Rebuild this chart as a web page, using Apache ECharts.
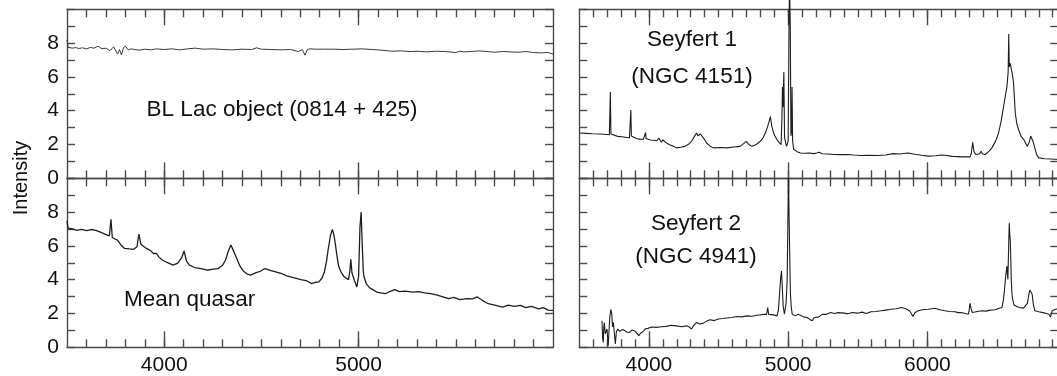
<!DOCTYPE html>
<html>
<head>
<meta charset="utf-8">
<script src="https://cdn.jsdelivr.net/npm/echarts@6/dist/echarts.min.js"></script>
<style>
html,body{margin:0;padding:0;background:#fff;overflow:hidden;}
#c{width:1060px;height:376px;}
</style>
</head>
<body>
<div id="c"></div>
<script>
// ---- data: [wavelength (Å), intensity] ----
var blLac = [[3500,8.2],[3505,7.75],[3515,7.8],[3530,7.7],[3545,7.74],[3560,7.68],[3580,7.72],[3600,7.66],[3620,7.74],[3640,7.7],[3660,7.82],[3680,7.66],[3700,7.7],[3720,7.55],[3740,7.78],[3760,7.35],[3770,7.62],[3780,7.3],[3790,7.7],[3800,7.82],[3815,7.6],[3830,7.66],[3850,7.62],[3870,7.58],[3900,7.64],[3930,7.6],[3960,7.66],[4000,7.62],[4040,7.66],[4080,7.6],[4120,7.66],[4160,7.7],[4200,7.64],[4250,7.66],[4300,7.62],[4350,7.6],[4400,7.64],[4450,7.62],[4475,7.72],[4500,7.64],[4550,7.62],[4600,7.6],[4650,7.62],[4690,7.5],[4710,7.62],[4725,7.28],[4735,7.6],[4750,7.66],[4780,7.64],[4820,7.64],[4870,7.64],[4920,7.62],[4970,7.64],[5020,7.66],[5070,7.62],[5120,7.58],[5170,7.52],[5220,7.54],[5260,7.5],[5300,7.52],[5350,7.48],[5400,7.52],[5450,7.5],[5500,7.44],[5520,7.52],[5540,7.48],[5580,7.5],[5620,7.54],[5660,7.5],[5700,7.46],[5740,7.5],[5780,7.48],[5820,7.46],[5860,7.5],[5900,7.44],[5940,7.42],[5970,7.45],[6000,7.35]];

var meanQuasar = [[3500,7.5],[3505,7.05],[3530,7.0],[3550,6.92],[3574,6.98],[3600,6.9],[3625,6.97],[3648,6.92],[3675,6.8],[3704,6.65],[3718,6.6],[3726,7.58],[3733,6.5],[3745,6.42],[3759,6.35],[3778,6.05],[3796,5.85],[3820,5.82],[3843,5.8],[3860,5.95],[3870,6.7],[3880,6.1],[3889,6.02],[3908,5.85],[3926,5.75],[3945,5.55],[3960,5.55],[3972,5.35],[3991,5.15],[4020,5.0],[4046,4.86],[4070,4.98],[4090,5.3],[4102,5.7],[4115,5.1],[4130,4.86],[4157,4.72],[4190,4.65],[4222,4.56],[4250,4.62],[4278,4.66],[4300,4.85],[4315,5.15],[4330,5.7],[4343,6.05],[4355,5.75],[4370,5.35],[4390,4.8],[4407,4.52],[4425,4.35],[4444,4.27],[4470,4.4],[4495,4.5],[4518,4.66],[4545,4.55],[4574,4.46],[4600,4.38],[4630,4.23],[4665,4.12],[4704,4.0],[4730,3.95],[4759,3.77],[4780,3.85],[4796,3.87],[4812,4.1],[4824,4.46],[4835,5.1],[4843,5.75],[4855,6.6],[4865,6.98],[4872,6.7],[4880,6.15],[4890,5.3],[4898,4.76],[4912,4.4],[4926,4.17],[4948,4.0],[4955,4.5],[4960,5.2],[4966,4.4],[4978,3.97],[4991,3.57],[5000,4.2],[5007,7.1],[5013,8.0],[5019,6.0],[5024,4.5],[5028,4.17],[5040,3.75],[5056,3.53],[5075,3.4],[5093,3.27],[5115,3.22],[5139,3.17],[5160,3.3],[5185,3.41],[5210,3.3],[5240,3.32],[5278,3.27],[5310,3.3],[5340,3.22],[5370,3.17],[5400,3.1],[5430,3.0],[5463,2.88],[5490,2.95],[5520,2.82],[5556,2.88],[5585,2.86],[5611,2.98],[5640,2.75],[5667,2.58],[5700,2.5],[5741,2.38],[5770,2.5],[5800,2.42],[5833,2.48],[5860,2.35],[5890,2.42],[5926,2.28],[5950,2.35],[5975,2.2],[6000,2.18]];

var seyfert1 = [[3504,2.68],[3550,2.66],[3595,2.64],[3650,2.62],[3716,2.58],[3720,2.62],[3723,5.1],[3727,2.62],[3735,2.58],[3776,2.48],[3820,2.44],[3860,2.38],[3866,2.45],[3870,4.04],[3874,2.5],[3884,2.44],[3910,2.36],[3933,2.32],[3960,2.3],[3972,2.4],[3976,2.71],[3980,2.35],[3986,2.29],[4010,2.27],[4029,2.25],[4055,2.22],[4072,2.38],[4089,2.13],[4100,2.28],[4106,2.25],[4120,2.12],[4149,1.99],[4175,1.9],[4198,1.8],[4230,1.84],[4258,1.89],[4285,2.02],[4306,2.19],[4325,2.45],[4342,2.68],[4352,2.52],[4361,2.48],[4370,2.62],[4378,2.64],[4395,2.35],[4414,2.09],[4440,1.9],[4463,1.8],[4510,1.82],[4559,1.8],[4610,1.85],[4655,1.89],[4680,2.05],[4699,2.19],[4715,2.02],[4740,1.89],[4770,2.0],[4800,2.19],[4820,2.4],[4836,2.68],[4850,3.0],[4860,3.26],[4872,3.65],[4882,3.1],[4892,2.77],[4905,2.5],[4920,2.29],[4935,2.12],[4949,1.99],[4955,3.5],[4959,5.4],[4963,4.2],[4969,6.29],[4974,2.4],[4988,1.89],[5000,2.2],[5006,9.0],[5010,11.5],[5015,9.0],[5020,2.5],[5025,2.8],[5028,5.4],[5032,2.2],[5040,1.7],[5053,1.6],[5070,1.55],[5089,1.5],[5120,1.48],[5150,1.5],[5186,1.46],[5205,1.5],[5222,1.54],[5245,1.45],[5280,1.44],[5330,1.41],[5380,1.4],[5427,1.41],[5470,1.38],[5523,1.35],[5580,1.36],[5643,1.35],[5700,1.38],[5752,1.46],[5800,1.44],[5860,1.5],[5910,1.42],[5960,1.36],[6005,1.31],[6060,1.33],[6100,1.38],[6113,1.46],[6125,1.36],[6180,1.3],[6246,1.27],[6306,1.27],[6316,1.5],[6325,2.13],[6334,1.6],[6347,1.41],[6375,1.45],[6386,1.6],[6395,1.45],[6414,1.41],[6440,1.58],[6463,1.8],[6490,2.2],[6511,2.68],[6530,3.4],[6547,4.24],[6560,4.9],[6571,5.41],[6580,6.3],[6584,8.54],[6588,6.6],[6595,6.8],[6600,6.58],[6607,6.68],[6613,6.0],[6619,5.6],[6631,3.85],[6643,3.2],[6655,2.87],[6672,2.5],[6692,2.29],[6716,1.89],[6730,2.1],[6742,2.5],[6752,2.52],[6762,2.1],[6771,1.8],[6785,1.4],[6800,1.21],[6840,1.16],[6890,1.14],[6945,1.11]];

var seyfert2 = [[3663,1.57],[3667,0.6],[3672,0.29],[3676,1.2],[3680,1.47],[3686,0.8],[3692,0.69],[3699,1.08],[3704,0.5],[3708,0.1],[3714,1.1],[3720,1.86],[3727,2.25],[3733,2.0],[3739,1.2],[3745,1.47],[3752,0.8],[3759,0.2],[3766,0.9],[3776,1.08],[3788,0.95],[3800,0.88],[3812,1.05],[3824,0.98],[3842,0.9],[3860,0.88],[3878,1.02],[3896,0.98],[3912,0.85],[3928,0.69],[3942,0.85],[3957,0.92],[3975,1.1],[3993,1.12],[4020,1.2],[4053,1.18],[4090,1.22],[4125,1.24],[4160,1.3],[4198,1.27],[4235,1.22],[4270,1.27],[4290,1.2],[4306,1.08],[4322,1.3],[4342,1.47],[4365,1.38],[4390,1.43],[4415,1.55],[4439,1.63],[4470,1.58],[4499,1.67],[4530,1.7],[4559,1.73],[4595,1.76],[4631,1.82],[4668,1.8],[4704,1.86],[4740,1.84],[4776,1.9],[4800,1.92],[4824,1.96],[4845,1.95],[4853,2.35],[4860,1.95],[4872,1.9],[4895,1.92],[4920,1.86],[4930,2.2],[4937,3.04],[4945,4.0],[4952,4.51],[4958,3.5],[4964,2.45],[4973,1.96],[4985,2.6],[4993,4.02],[4998,7.5],[5002,10.4],[5008,7.0],[5016,3.24],[5022,2.4],[5029,1.96],[5053,1.86],[5070,1.95],[5089,1.9],[5110,1.8],[5137,1.76],[5155,1.65],[5173,1.57],[5185,1.75],[5198,1.86],[5220,1.8],[5246,1.96],[5275,1.95],[5306,2.06],[5330,2.0],[5360,2.05],[5402,2.02],[5430,1.98],[5460,2.06],[5499,2.02],[5530,2.08],[5560,2.0],[5595,2.1],[5630,2.12],[5667,2.16],[5700,2.2],[5740,2.25],[5775,2.28],[5812,2.35],[5840,2.3],[5872,2.16],[5884,2.0],[5896,1.82],[5910,2.05],[5933,2.16],[5965,2.22],[6005,2.25],[6030,2.28],[6053,2.31],[6090,2.22],[6125,2.16],[6160,2.12],[6198,2.1],[6220,2.05],[6246,2.06],[6270,2.0],[6294,1.96],[6300,2.2],[6306,2.61],[6313,2.3],[6323,2.06],[6350,2.1],[6390,2.16],[6420,2.14],[6450,2.2],[6486,2.22],[6510,2.3],[6535,2.35],[6546,2.8],[6554,3.43],[6562,4.2],[6571,4.8],[6578,4.02],[6584,6.2],[6588,7.35],[6592,6.6],[6595,6.37],[6599,5.2],[6602,4.02],[6607,3.2],[6612,2.84],[6622,2.5],[6631,2.41],[6650,2.38],[6667,2.35],[6690,2.32],[6704,2.35],[6718,2.6],[6728,3.1],[6735,3.39],[6745,3.3],[6752,3.14],[6760,2.6],[6771,2.16],[6785,2.05],[6800,2.1],[6830,2.05],[6855,2.0],[6872,1.96],[6884,1.8],[6896,2.16],[6920,2.25],[6945,2.29]];

var leftMajorTicks = [4000, 5000];
var rightMajorTicks = [4000, 5000, 6000];
var yTickLabels = [0, 2, 4, 6, 8];
var panelLabels = ['BL Lac object (0814 + 425)', 'Mean quasar', 'Seyfert 1', '(NGC 4151)', 'Seyfert 2', '(NGC 4941)'];
var yTitle = 'Intensity';

// ---- layout ----
var FONT = 'Liberation Sans, Arial, Helvetica, sans-serif';
var TXT = '#111';
var FRAME = '#4a4a4a';
var panelH = 169;
var grids = [
  {left: 67, top: 9.3, width: 486, height: panelH},      // top-left
  {left: 67, top: 178.3, width: 486, height: panelH},    // bottom-left
  {left: 579.3, top: 9.3, width: 479, height: panelH},   // top-right
  {left: 579.3, top: 178.3, width: 479, height: panelH}  // bottom-right
];
var xRanges = [[3500, 6000], [3500, 6000], [3500, 6940], [3500, 6940]];
var majors = [leftMajorTicks, leftMajorTicks, rightMajorTicks, rightMajorTicks];

function minorList(r) {
  var out = [];
  for (var v = r[0] + 100; v < r[1]; v += 100) out.push(v);
  return out;
}

var xAxes = [], yAxes = [];
grids.forEach(function (g, i) {
  var r = xRanges[i];
  var showLab = (i === 1 || i === 3);
  ['bottom', 'top'].forEach(function (pos) {
    // minor ticks + frame line
    xAxes.push({
      type: 'value', gridIndex: i, position: pos, min: r[0], max: r[1],
      axisLine: {show: true, onZero: false, lineStyle: {color: FRAME, width: 1.4}},
      axisTick: {show: true, inside: true, length: 8, customValues: minorList(r), lineStyle: {color: FRAME, width: 1.4}},
      axisLabel: {show: false}, splitLine: {show: false}
    });
    // major ticks + labels
    xAxes.push({
      type: 'value', gridIndex: i, position: pos, min: r[0], max: r[1],
      axisLine: {show: false, onZero: false},
      axisTick: {show: true, inside: true, length: 16, customValues: majors[i], lineStyle: {color: FRAME, width: 1.4}},
      axisLabel: {show: showLab && pos === 'bottom', customValues: majors[i], margin: 7, fontFamily: FONT, fontSize: 21, color: TXT,
        formatter: function (v) { return String(v); }},
      splitLine: {show: false}
    });
  });
  ['left', 'right'].forEach(function (pos) {
    yAxes.push({
      type: 'value', gridIndex: i, position: pos, min: 0, max: 10, interval: 1,
      axisLine: {show: true, onZero: false, lineStyle: {color: FRAME, width: 1.4}},
      axisTick: {show: true, inside: true, length: 8, lineStyle: {color: FRAME, width: 1.4}},
      axisLabel: {
        show: (i < 2 && pos === 'left'), margin: 8, fontFamily: FONT, fontSize: 21, color: TXT,
        formatter: function (v) { return yTickLabels.indexOf(v) >= 0 ? String(v) : ''; }
      },
      splitLine: {show: false}
    });
  });
});

function lineSeries(data, gi, opts) {
  return Object.assign({
    type: 'line', data: data, xAxisIndex: gi * 4, yAxisIndex: gi * 2,
    showSymbol: false, symbol: 'none', animation: false,
    lineStyle: {color: '#1e1e1e', width: 1.1}
  }, opts || {});
}

function txt(s, x, y, align) {
  return {type: 'text', x: x, y: y, style: {text: s, font: '22.5px ' + FONT, fill: TXT, textAlign: align || 'center', textVerticalAlign: 'middle'}};
}

var chart = echarts.init(document.getElementById('c'), null, {renderer: 'canvas'});
chart.setOption({
  animation: false,
  backgroundColor: '#fff',
  grid: grids.map(function (g) { return Object.assign({containLabel: false}, g); }),
  xAxis: xAxes,
  yAxis: yAxes,
  series: [
    lineSeries(blLac, 0, {lineStyle: {color: '#3a3a3a', width: 1}}),
    lineSeries(meanQuasar, 1, {lineStyle: {color: '#1e1e1e', width: 1.3}}),
    lineSeries(seyfert1, 2, {clip: false}),
    lineSeries(seyfert2, 3)
  ],
  graphic: [
    txt(panelLabels[0], 282, 110),
    txt(panelLabels[1], 124, 300, 'left'),
    txt(panelLabels[2], 692, 40),
    txt(panelLabels[3], 692, 77),
    txt(panelLabels[4], 696, 224),
    txt(panelLabels[5], 696, 257),
    {type: 'text', x: 21, y: 178, rotation: Math.PI / 2,
     style: {text: yTitle, font: '20px ' + FONT, fill: TXT, textAlign: 'center', textVerticalAlign: 'middle'}}
  ]
});
</script>
</body>
</html>
